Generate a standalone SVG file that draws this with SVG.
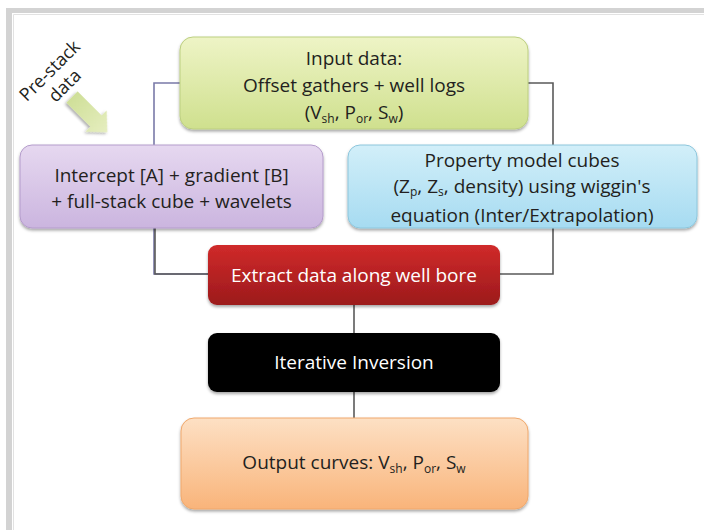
<svg xmlns="http://www.w3.org/2000/svg" width="704" height="530" viewBox="0 0 704 530">
<defs>
<linearGradient id="gGreen" x1="0" y1="0" x2="0" y2="1"><stop offset="0" stop-color="#eef4c6"/><stop offset="1" stop-color="#cfe08e"/></linearGradient>
<linearGradient id="gPurple" x1="0" y1="0" x2="0" y2="1"><stop offset="0" stop-color="#e6d8f0"/><stop offset="1" stop-color="#cbb5df"/></linearGradient>
<linearGradient id="gBlue" x1="0" y1="0" x2="0" y2="1"><stop offset="0" stop-color="#d2eff9"/><stop offset="1" stop-color="#a6dbf1"/></linearGradient>
<linearGradient id="gRed" x1="0" y1="0" x2="0" y2="1"><stop offset="0" stop-color="#d02a2a"/><stop offset="1" stop-color="#9c1a1c"/></linearGradient>
<linearGradient id="gOrange" x1="0" y1="0" x2="0" y2="1"><stop offset="0" stop-color="#fde0c4"/><stop offset="1" stop-color="#f9b47a"/></linearGradient>
<linearGradient id="gArrow" x1="0" y1="0" x2="1" y2="0"><stop offset="0" stop-color="#cfdf98"/><stop offset="1" stop-color="#e6eec0"/></linearGradient>
<filter id="sh" x="-10%" y="-10%" width="120%" height="130%"><feDropShadow dx="0" dy="2" stdDeviation="1.5" flood-color="#000" flood-opacity="0.35"/></filter>
</defs>
<style>
.t{font-family:"Open Sans","Noto Sans","Liberation Sans",sans-serif;font-size:19px;fill:#231f20;text-anchor:middle}
.w{fill:#ffffff}
.c{fill:none;stroke:#5a5a5a;stroke-width:1.6}
.sub{font-size:12px}
</style>
<rect width="704" height="530" fill="#ffffff"/>
<g id="frame">
<rect x="6" y="8" width="698" height="5" fill="#d3d3d3"/>
<rect x="6" y="8" width="6" height="522" fill="#d3d3d3"/>
<path d="M13.5,530 V14.5 H704" fill="none" stroke="#e2e2e2" stroke-width="1"/>
</g>
<g id="connectors">
<path class="c" d="M180,83 H154 V274 H208" style="stroke:#7a7aa8"/>
<path class="c" d="M155,228 V274 H208"/>
<path class="c" d="M528,83 H553 V274 H500"/>
<path class="c" d="M354,305 V333"/>
<path class="c" d="M354,392 V418"/>
</g>
<g id="prestack">
<text class="t" transform="translate(54,75) rotate(-45)" style="font-size:18px">Pre-stack</text>
<text class="t" transform="translate(69,90) rotate(-45)" style="font-size:18px">data</text>
<path transform="translate(72,97) rotate(45)" d="M0,-8 H34 V-15 L50,0 L34,15 V8 H0 Z" fill="url(#gArrow)" filter="url(#sh)"/>
</g>
<g id="input">
<rect x="180" y="37" width="348" height="92" rx="13" fill="url(#gGreen)" stroke="#bccf80" stroke-width="1" filter="url(#sh)"/>
<text class="t" x="354" y="65">Input data:</text>
<text class="t" x="354" y="92">Offset gathers + well logs</text>
<text class="t" x="354" y="119">(V<tspan class="sub" dy="4">sh</tspan><tspan dy="-4">, P</tspan><tspan class="sub" dy="4">or</tspan><tspan dy="-4">, S</tspan><tspan class="sub" dy="4">w</tspan><tspan dy="-4">)</tspan></text>
</g>
<g id="intercept">
<rect x="20" y="145" width="303" height="83" rx="12" fill="url(#gPurple)" stroke="#b49ccb" stroke-width="1" filter="url(#sh)"/>
<text class="t" x="171.5" y="182">Intercept [A] + gradient [B]</text>
<text class="t" x="171.5" y="208">+ full-stack cube + wavelets</text>
</g>
<g id="property">
<rect x="348" y="145" width="349" height="83" rx="12" fill="url(#gBlue)" stroke="#8cc6dc" stroke-width="1" filter="url(#sh)"/>
<text class="t" x="522" y="167">Property model cubes</text>
<text class="t" x="522" y="193">(Z<tspan class="sub" dy="3">p</tspan><tspan dy="-3">, Z</tspan><tspan class="sub" dy="3">s</tspan><tspan dy="-3">, density) using wiggin's</tspan></text>
<text class="t" x="522" y="222">equation (Inter/Extrapolation)</text>
</g>
<g id="extract">
<rect x="208" y="245" width="292" height="60" rx="9" fill="url(#gRed)" filter="url(#sh)"/>
<text class="t w" x="354" y="282">Extract data along well bore</text>
</g>
<g id="inversion">
<rect x="208" y="333" width="292" height="59" rx="9" fill="#000000" filter="url(#sh)"/>
<text class="t w" x="354" y="369">Iterative Inversion</text>
</g>
<g id="output">
<rect x="181" y="418" width="347" height="91" rx="13" fill="url(#gOrange)" stroke="#f0a86c" stroke-width="1" filter="url(#sh)"/>
<text class="t" x="354" y="469">Output curves: V<tspan class="sub" dy="4">sh</tspan><tspan dy="-4">, P</tspan><tspan class="sub" dy="4">or</tspan><tspan dy="-4">, S</tspan><tspan class="sub" dy="4">w</tspan></text>
</g>
</svg>
